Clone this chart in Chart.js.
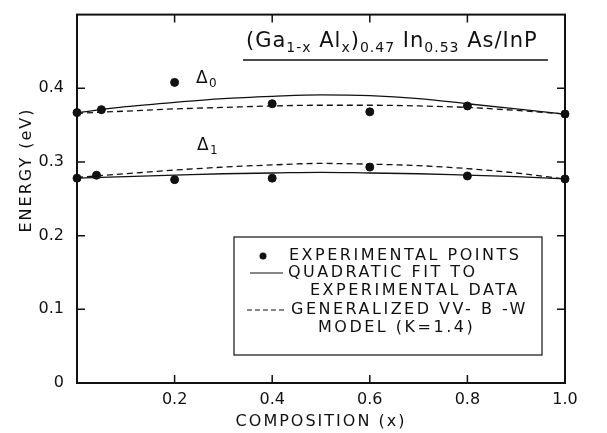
<!DOCTYPE html>
<html>
<head>
<meta charset="utf-8">
<script src="https://cdn.jsdelivr.net/npm/chart.js@4"></script>
<style>
  html, body { margin: 0; padding: 0; background: #fff; }
  #wrap { width: 607px; height: 433px; }
</style>
</head>
<body>
<div id="wrap"><canvas id="chart" width="607" height="433"></canvas></div>
<script>
// measured points
const xExp0 = [0, 0.05, 0.2, 0.4, 0.6, 0.8, 1.0];
const delta0Exp = [0.367, 0.371, 0.408, 0.379, 0.368, 0.376, 0.365];
const xExp1 = [0, 0.04, 0.2, 0.4, 0.6, 0.8, 1.0];
const delta1Exp = [0.278, 0.282, 0.276, 0.278, 0.293, 0.281, 0.277];

// curves
const xCurve = [0, 0.1, 0.2, 0.3, 0.4, 0.5, 0.6, 0.7, 0.8, 0.9, 1.0];
const delta0Fit = [0.367, 0.375, 0.381, 0.386, 0.389, 0.391, 0.390, 0.386, 0.379, 0.372, 0.365];
const delta0Model = [0.366, 0.369, 0.372, 0.374, 0.376, 0.377, 0.377, 0.376, 0.374, 0.370, 0.365];
const delta1Fit = [0.278, 0.280, 0.282, 0.284, 0.285, 0.286, 0.285, 0.284, 0.282, 0.280, 0.277];
const delta1Model = [0.279, 0.284, 0.289, 0.293, 0.296, 0.298, 0.297, 0.295, 0.291, 0.285, 0.277];

const xTicks = [0, 0.2, 0.4, 0.6, 0.8, 1.0];
const yTicks = [0, 0.1, 0.2, 0.3, 0.4, 0.5];

const INK = '#111';
const FONT = '"DejaVu Sans", sans-serif';

function pts(xs, ys) {
    return xs.map((x, i) => ({ x: x, y: ys[i] }));
}

function pointSet(xs, ys) {
    return {
        data: pts(xs, ys), showLine: false, pointRadius: 4, pointHoverRadius: 4,
        backgroundColor: INK, borderColor: INK, clip: false
    };
}
function curveSet(xs, ys, dashed) {
    return {
        data: pts(xs, ys), showLine: true, pointRadius: 0, borderWidth: 1.3,
        borderColor: INK, borderDash: dashed ? [6, 4] : [], tension: 0.4,
        cubicInterpolationMode: 'monotone', clip: false
    };
}

// frame, inward ticks, titles, legend, labels
const decor = {
    id: 'decor',
    afterDraw(chart) {
        const ctx = chart.ctx;
        const a = chart.chartArea;
        const xs = chart.scales.x, ys = chart.scales.y;
        ctx.save();
        ctx.strokeStyle = INK;
        ctx.fillStyle = INK;
        ctx.lineWidth = 2;
        ctx.strokeRect(a.left, a.top, a.right - a.left, a.bottom - a.top);

        ctx.lineWidth = 1.5;
        ctx.beginPath();
        xTicks.slice(1, -1).forEach(v => {
            const px = xs.getPixelForValue(v);
            ctx.moveTo(px, a.bottom); ctx.lineTo(px, a.bottom - 8);
            ctx.moveTo(px, a.top); ctx.lineTo(px, a.top + 8);
        });
        yTicks.slice(1, -1).forEach(v => {
            const py = ys.getPixelForValue(v);
            ctx.moveTo(a.left, py); ctx.lineTo(a.left + 8, py);
            ctx.moveTo(a.right, py); ctx.lineTo(a.right - 8, py);
        });
        ctx.stroke();

        // axis titles
        ctx.letterSpacing = '2px';
        ctx.font = '16px ' + FONT;
        ctx.textAlign = 'center';
        ctx.textBaseline = 'middle';
        ctx.fillText('COMPOSITION (x)', (a.left + a.right) / 2, 422);
        ctx.save();
        ctx.translate(27, 170);
        ctx.rotate(-Math.PI / 2);
        ctx.fillText('ENERGY (eV)', 0, 0);
        ctx.restore();

        // title with subscripts
        ctx.textAlign = 'left';
        ctx.textBaseline = 'alphabetic';
        ctx.letterSpacing = '1px';
        const parts = [
            ['(Ga', 0], ['1-x', 1], [' Al', 0], ['x', 1], [')', 0], ['0.47', 1],
            [' In', 0], ['0.53', 1], [' As/InP', 0]
        ];
        let tx = 246;
        const base = 47;
        parts.forEach(p => {
            ctx.font = p[1] ? '14px ' + FONT : '21px ' + FONT;
            ctx.fillText(p[0], tx, p[1] ? base + 5 : base);
            tx += ctx.measureText(p[0]).width;
        });
        ctx.lineWidth = 1.5;
        ctx.beginPath();
        ctx.moveTo(243, 60); ctx.lineTo(548, 60);
        ctx.stroke();

        // delta labels
        ctx.letterSpacing = '0px';
        ctx.font = '17px ' + FONT;
        ctx.fillText('\u0394', 196, 83);
        ctx.fillText('\u0394', 197, 150);
        ctx.font = '12px ' + FONT;
        ctx.fillText('0', 209, 87);
        ctx.fillText('1', 210, 154);

        // legend box
        ctx.letterSpacing = '2.5px';
        ctx.lineWidth = 1.2;
        ctx.strokeRect(234, 237, 308, 118);
        ctx.font = '16px ' + FONT;
        ctx.textBaseline = 'middle';
        ctx.beginPath();
        ctx.arc(263, 256, 3.5, 0, Math.PI * 2);
        ctx.fill();
        ctx.fillText('EXPERIMENTAL POINTS', 289, 256);
        ctx.beginPath();
        ctx.moveTo(250, 273); ctx.lineTo(283, 273);
        ctx.stroke();
        ctx.fillText('QUADRATIC FIT TO', 288, 273);
        ctx.fillText('EXPERIMENTAL DATA', 310, 291);
        ctx.setLineDash([5, 3]);
        ctx.beginPath();
        ctx.moveTo(247, 310); ctx.lineTo(287, 310);
        ctx.stroke();
        ctx.setLineDash([]);
        ctx.fillText('GENERALIZED VV- B -W', 291, 310);
        ctx.fillText('MODEL (K=1.4)', 318, 328);
        ctx.restore();
    }
};

new Chart(document.getElementById('chart'), {
    type: 'scatter',
    data: {
        datasets: [
            pointSet(xExp0, delta0Exp),
            curveSet(xCurve, delta0Fit, false),
            curveSet(xCurve, delta0Model, true),
            pointSet(xExp1, delta1Exp),
            curveSet(xCurve, delta1Fit, false),
            curveSet(xCurve, delta1Model, true)
        ]
    },
    options: {
        responsive: false,
        animation: false,
        events: [],
        layout: { padding: { top: 8, right: 42, left: 0, bottom: 0 } },
        plugins: { legend: { display: false }, tooltip: { enabled: false } },
        scales: {
            x: {
                type: 'linear', min: 0, max: 1,
                afterFit: s => { s.height = 50; },
                afterBuildTicks: s => { s.ticks = xTicks.map(v => ({ value: v })); },
                grid: { display: false },
                border: { display: false },
                ticks: {
                    color: INK, padding: -1, maxRotation: 0,
                    font: { family: FONT, size: 16 },
                    callback: v => v === 0 ? '' : v.toFixed(1)
                }
            },
            y: {
                type: 'linear', min: 0, max: 0.5,
                afterFit: s => { s.width = 77; },
                afterBuildTicks: s => { s.ticks = yTicks.map(v => ({ value: v })); },
                grid: { display: false },
                border: { display: false },
                ticks: {
                    color: INK, padding: 5,
                    font: { family: FONT, size: 16 },
                    callback: v => v === 0 ? '0' : (v >= 0.5 ? '' : v.toFixed(1))
                }
            }
        }
    },
    plugins: [decor]
});
</script>
</body>
</html>
